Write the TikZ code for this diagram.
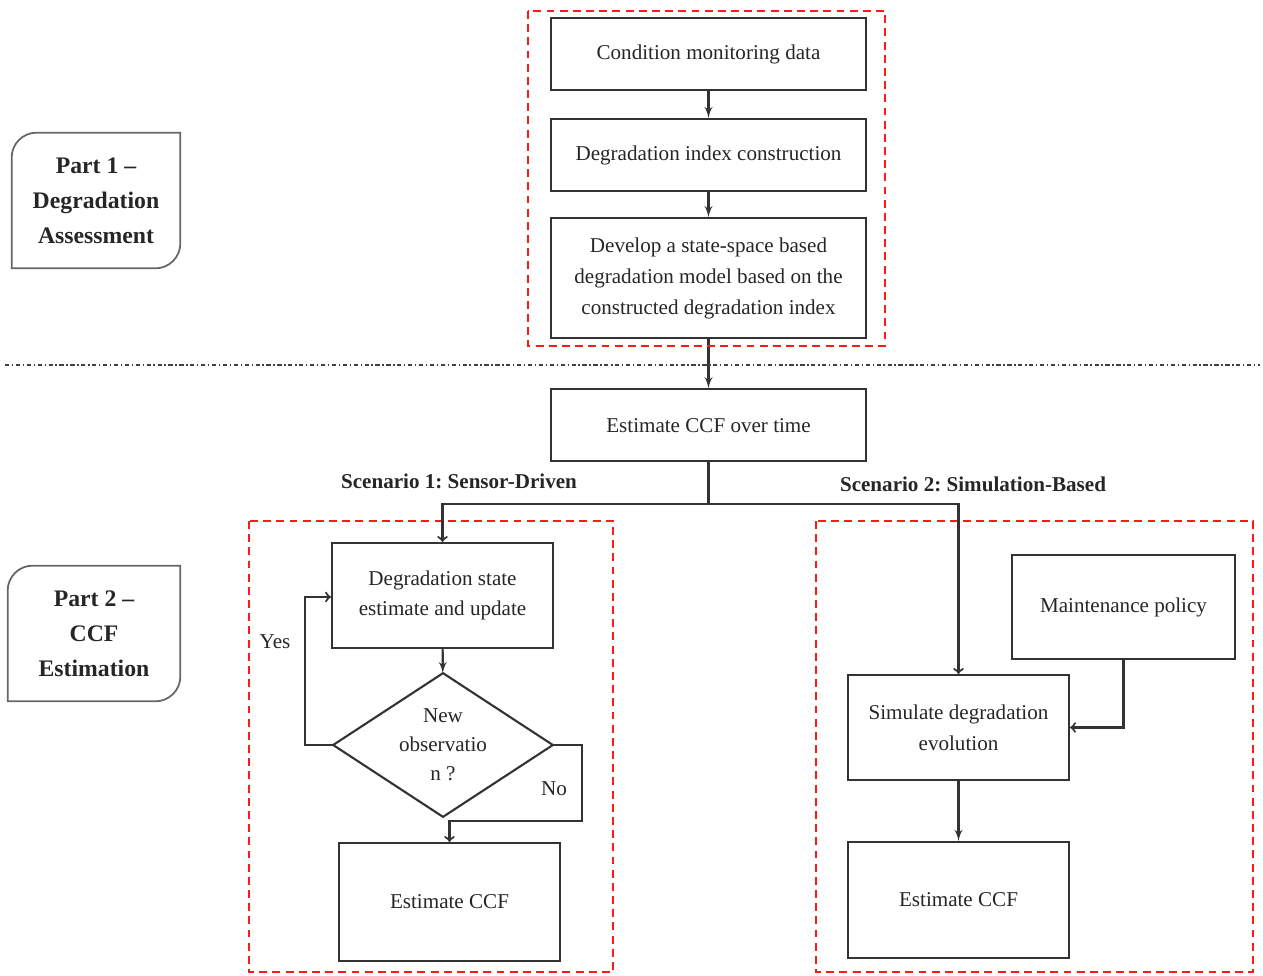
\documentclass[tikz,border=0pt]{standalone}
\usepackage{fontspec}
\setmainfont{Liberation Serif}
\usepackage{tikz}
\usetikzlibrary{arrows,calc,positioning}
\tikzset{every picture/.style={
  >=latex'                      % LaTeX style arrows.
  }
}
\frenchspacing

\begin{document}
\begin{tikzpicture}[
        node distance=0pt,
        box/.style={
          draw=black!80,
          line width=1.2pt,
          align=center,
          text=black!85,
          font=\fontsize{12}{17.5}\selectfont,
          minimum width=#1,
          inner sep=2pt
        },
        box/.default=6.3cm,
        region/.style={
          draw=red!90,
          line width=1.4pt,
          dash pattern=on 4.5pt off 3pt
        },
        partlbl/.style={
          align=center,
          font=\fontsize{13.5}{19.8}\selectfont\bfseries,
          text=black!85
        },
        scen/.style={
          font=\fontsize{12}{14}\selectfont\bfseries,
          text=black!85
        },
        lbl/.style={
          font=\fontsize{12}{14}\selectfont,
          text=black!85
        },
        arr/.style={->, line width=1.2pt, draw=black!80},
        arrto/.style={-to, line width=1.2pt, draw=black!80}]

        \useasboundingbox (0,0) rectangle (25.26,-19.52);

        % Helper macro: frame with two rounded corners.
        \def\frm#1{\draw[line width=1pt, draw=black!60]
          (#1.north east) -- ([xshift=0.5cm] #1.north west)
          arc[start angle=90, end angle=180, radius=0.5cm]
          -- (#1.south west) -- ([xshift=-0.5cm] #1.south east)
          arc[start angle=270, end angle=360, radius=0.5cm] -- cycle}

        % Part labels.
        \node[partlbl, minimum width=3.36cm, minimum height=2.7cm] (p1)
          at (1.92,-4.01) {Part 1 --\\Degradation\\Assessment};
        \frm{p1};
        \node[partlbl, minimum width=3.44cm, minimum height=2.7cm] (p2)
          at (1.88,-12.67) {Part 2 --\\CCF\\Estimation};
        \frm{p2};

        % Part 1 chain.
        \node[box, minimum height=1.44cm] (cmd) at (14.17,-1.08)
          {Condition monitoring data};
        \node[box, minimum height=1.44cm, below=0.54cm of cmd] (dic)
          {Degradation index construction};
        \node[box, minimum height=2.4cm, below=0.5cm of dic] (ssm)
          {Develop a state-space based\\degradation model based on the\\constructed degradation index};
        \node[box, minimum height=1.44cm, below=0.98cm of ssm] (ccf)
          {Estimate CCF over time};

        \draw[arr] (cmd) -- (dic);
        \draw[arr] (dic) -- (ssm);
        \draw[arr] (ssm) -- (ccf);

        % Separator.
        \draw[black!75, line width=1.6pt,
          dash pattern=on 2.4pt off 1.5pt on 0.8pt off 1.5pt]
          (0.1,-7.3) -- (25.2,-7.3);

        % Scenario 1.
        \node[box=4.42cm, minimum height=2.1cm] (upd) at (8.85,-11.91)
          {Degradation state\\estimate and update};
        \node[lbl, minimum width=4.38cm, minimum height=2.86cm,
          inner sep=0pt, align=center, font=\fontsize{12}{16.5}\selectfont]
          (obs) at (8.86,-14.9) {New\\observatio\\n ?};
        \draw[line width=1.2pt, draw=black!80]
          (obs.north) -- (obs.east) -- (obs.south) -- (obs.west) -- cycle;
        \node[box=4.42cm, minimum height=2.36cm] (ccfa) at (8.99,-18.04)
          {Estimate CCF};

        % Scenario 2.
        \node[box=4.46cm, minimum height=2.08cm] (pol) at (22.47,-12.14)
          {Maintenance policy};
        \node[box=4.42cm, minimum height=2.1cm] (sim) at (19.17,-14.55)
          {Simulate degradation\\evolution};
        \node[box=4.42cm, minimum height=2.32cm] (ccfb) at (19.17,-18.0)
          {Estimate CCF};

        % Scenario titles.
        \node[scen] (s1) at (9.18,-9.62) {Scenario 1: Sensor-Driven};
        \node[scen] (s2) at (19.46,-9.68) {Scenario 2: Simulation-Based};

        % Dashed regions.
        \draw[region] (10.56,-0.22) rectangle (17.7,-6.92);
        \draw[region] (4.98,-10.42) rectangle (12.26,-19.44);
        \draw[region] (16.32,-10.42) rectangle (25.06,-19.44);

        % Branches.
        \coordinate (split) at ($(ccf.south)+(0,-0.84)$);
        \draw[line width=1.2pt, draw=black!80] (ccf.south) -- (split);
        \draw[arrto] (split) -| (upd.north);
        \draw[arrto] (split) -| (sim.north);

        \draw[arr] (upd) -- (obs);
        \draw[arrto] (obs.west) -- ++(-0.56,0) |- ([yshift=-0.03cm] upd.west);
        \node[lbl] (yes) at (5.5,-12.84) {Yes};
        \coordinate (nobend) at ($(ccfa.north)+(0,0.42)$);
        \draw[arrto] (obs.east) -- ++(0.58,0) |- (nobend) -- (ccfa.north);
        \node[lbl] (no) at (11.08,-15.78) {No};

        \draw[arrto] (pol.south) |- (sim.east);
        \draw[arr] (sim) -- (ccfb);
      \end{tikzpicture}
\end{document}
